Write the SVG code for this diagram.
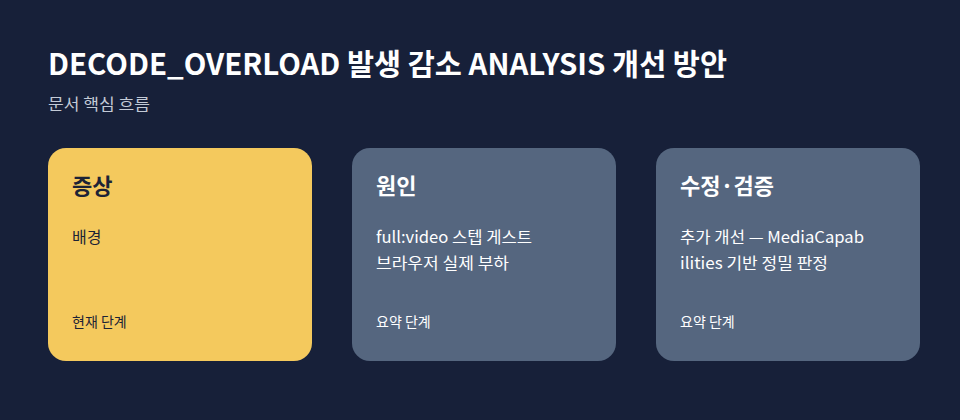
<svg xmlns="http://www.w3.org/2000/svg" width="960" height="420" viewBox="0 0 960 420">
<style>
text{font-family:"Noto Sans CJK KR","Noto Sans",sans-serif}
.title{font-size:29.5px;font-weight:700;fill:#ffffff}
.sub{font-size:16px;fill:#c3cad6}
.card{stroke:none}
.h{font-size:22px;font-weight:700}
.b{font-size:16px}
.f{font-size:14px}
.dark{fill:#1c2336}
.light{fill:#ffffff}
</style>
<rect width="960" height="420" fill="#172039"/>
<text class="title" x="48" y="75" textLength="679" lengthAdjust="spacingAndGlyphs">DECODE_OVERLOAD 발생 감소 ANALYSIS 개선 방안</text>
<text class="sub" x="48" y="110" textLength="102" lengthAdjust="spacingAndGlyphs">문서 핵심 흐름</text>
<g id="connectors"></g>
<g id="node-symptom">
<rect class="card" x="48" y="148" width="264" height="213" rx="18" fill="#f4c95d"/>
<text class="h dark" x="72" y="194">증상</text>
<text class="b dark" x="72" y="243">배경</text>
<text class="f dark" x="72" y="327">현재 단계</text>
</g>
<g id="node-cause">
<rect class="card" x="352" y="148" width="264" height="213" rx="18" fill="#55667f"/>
<text class="h light" x="376" y="194">원인</text>
<text class="b light" x="376" y="243" textLength="156" lengthAdjust="spacingAndGlyphs">full:video 스텝 게스트</text>
<text class="b light" x="376" y="269" textLength="133" lengthAdjust="spacingAndGlyphs">브라우저 실제 부하</text>
<text class="f light" x="376" y="327">요약 단계</text>
</g>
<g id="node-fix">
<rect class="card" x="656" y="148" width="264" height="213" rx="18" fill="#55667f"/>
<text class="h light" x="680" y="194">수정·검증</text>
<text class="b light" x="680" y="243" textLength="184" lengthAdjust="spacingAndGlyphs">추가 개선 — MediaCapab</text>
<text class="b light" x="680" y="269" textLength="148" lengthAdjust="spacingAndGlyphs">ilities 기반 정밀 판정</text>
<text class="f light" x="680" y="327">요약 단계</text>
</g>
</svg>
